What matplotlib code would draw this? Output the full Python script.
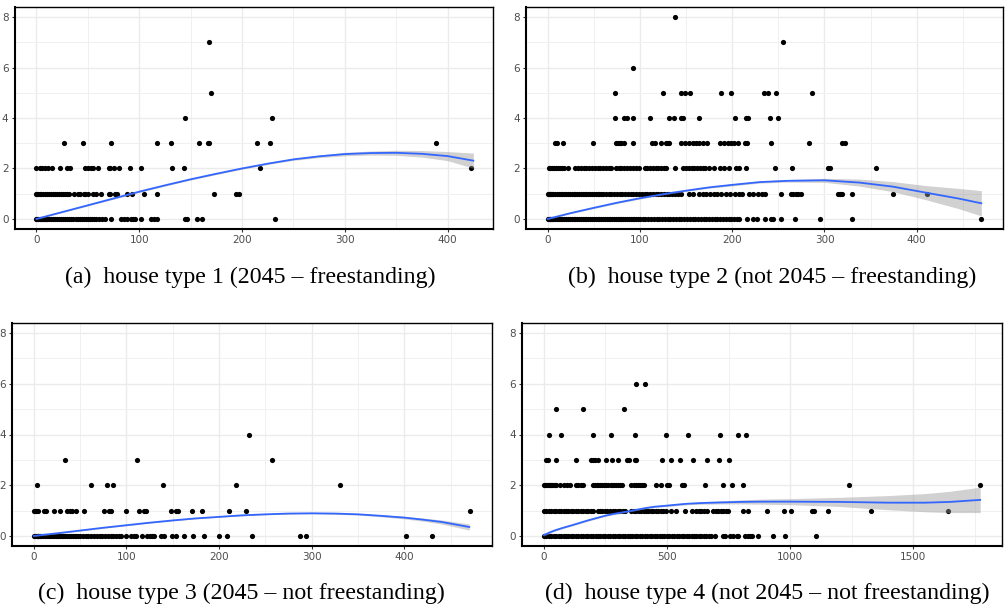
import matplotlib
matplotlib.use("Agg")
import matplotlib.pyplot as plt
import numpy as np

# ---------------- data ----------------
# panel (a): house type 1  -> x values grouped by y level
a_y0 = [0,1,2,3,4,5,6,7,8,9,10,12,14,16,18,20,22,24,26,28,30,32,34,36,38,40,42,44,46,48,50,52,54,56,58,
        61,64,67,73,82,85,88,92,94,96,102,111,114,117,145,146,156,161,232]
a_y1 = [0,1,2,3,4,6,8,10,12,14,16,18,20,22,24,26,28,30,32,37,40,42,46,47,50,55,58,63,71,72,76,78,
        88,93,105,117,173,194,197]
a_y2 = [0,3,5,8,11,15,23,30,33,47,50,53,55,60,71,72,75,80,91,102,132,144,217,423]
a_y3 = [27,45,73,117,131,158,167,168,215,227,389]
a_y4 = [145,229]
a_y5 = [170]
a_y7 = [168]
a_curve_x = [0,25,50,75,100,125,150,175,200,225,250,275,300,325,350,375,400,425]
a_curve_y = [0,0.27,0.54,0.81,1.08,1.33,1.57,1.79,2.0,2.19,2.36,2.48,2.57,2.61,2.62,2.58,2.49,2.31]
a_curve_se = [0.02,0.02,0.03,0.03,0.03,0.03,0.03,0.03,0.03,0.03,0.04,0.05,0.07,0.08,0.1,0.13,0.18,0.3]

# panel (b): house type 2
b_y0 = [0,1,2,3,4,5,6,8,10,12,14,16,18,20,22,24,26,28,30,32,34,36,38,40,42,44,46,48,50,52,54,56,58,60,
        62,64,66,68,70,72,74,76,78,80,82,84,86,88,90,92,94,96,98,100,103,106,109,112,115,118,121,124,127,
        130,133,136,139,142,145,148,151,154,157,160,163,166,169,172,175,178,181,184,187,190,193,196,199,
        202,205,207,216,222,227,235,242,244,253,268,295,330,470]
b_y1 = [0,1,2,3,4,5,6,8,10,12,14,16,18,20,22,24,26,28,30,32,34,36,38,40,42,44,46,48,50,52,54,56,58,60,
        63,66,69,72,75,78,81,84,87,90,93,96,99,102,105,108,111,114,117,120,123,126,129,132,135,138,141,144,
        153,158,164,168,172,176,180,184,188,193,198,203,207,211,218,223,228,232,236,
        253,264,266,269,271,275,315,317,319,330,374,411]
b_y2 = [1,3,5,7,9,11,13,15,18,22,30,33,36,39,42,45,48,51,54,57,60,63,66,69,74,77,80,83,86,89,92,96,99,
        105,108,111,114,117,120,123,126,128,138,147,150,153,156,159,162,165,168,171,175,180,187,191,197,
        204,207,215,246,265,304,306,356]
b_y3 = [8,10,17,49,74,76,78,80,83,93,113,116,123,128,130,131,144,149,153,157,161,164,168,173,187,191,
        195,199,202,206,214,216,242,283,319,322]
b_y4 = [73,83,86,93,111,132,137,144,147,164,203,215,217,241,250]
b_y5 = [73,125,144,149,154,188,199,234,239,247,287]
b_y6 = [92]
b_y7 = [255]
b_y8 = [138]
b_curve_x = [0,25,50,75,100,125,150,175,200,230,260,300,338,374,410,445,470]
b_curve_y = [0,0.23,0.44,0.64,0.82,0.98,1.12,1.25,1.35,1.46,1.51,1.53,1.44,1.28,1.04,0.81,0.62]
b_curve_se = [0.02,0.02,0.03,0.03,0.03,0.03,0.03,0.03,0.04,0.04,0.05,0.08,0.14,0.2,0.28,0.4,0.5]

# panel (c): house type 3
c_y0 = [0,1,2,3,4,5,6,7,8,10,12,14,16,18,20,22,24,26,28,30,32,34,36,38,40,42,44,46,48,50,53,56,59,62,
        65,68,71,74,77,80,83,86,89,92,94,100,105,108,110,117,122,125,128,130,137,140,149,154,162,172,184,
        200,209,236,287,294,402,430]
c_y1 = [0,1,2,4,11,13,22,28,36,39,41,45,54,76,81,83,100,114,119,121,148,154,156,171,181,211,229,471]
c_y2 = [3,62,79,85,139,218,331]
c_y3 = [34,111,257]
c_y4 = [232]
c_curve_x = [0,25,50,75,100,125,150,175,200,225,250,275,300,325,350,375,400,420,440,470]
c_curve_y = [0,0.1,0.21,0.32,0.42,0.52,0.61,0.69,0.75,0.81,0.85,0.88,0.89,0.88,0.85,0.79,0.72,0.64,0.55,0.35]
c_curve_se = [0.02,0.02,0.02,0.02,0.02,0.02,0.02,0.02,0.02,0.02,0.02,0.02,0.02,0.03,0.03,0.04,0.05,0.06,0.08,0.12]

# panel (d): house type 4
d_y0 = [0,10,20,30,40,50,60,70,80,90,100,110,120,130,140,150,160,170,180,190,200,210,220,230,240,250,
        260,270,280,290,300,310,320,330,340,350,360,370,380,390,400,410,420,430,440,450,460,470,480,490,
        500,510,520,530,540,550,560,570,580,590,600,610,620,630,640,650,660,670,680,694,
        728,735,755,769,783,789,816,828,837,844,871,930,980,1107]
d_y1 = [0,10,20,30,40,50,60,70,80,90,100,110,120,130,140,150,160,170,180,190,200,218,228,238,248,258,
        268,280,290,300,310,320,330,355,365,375,385,395,405,415,425,435,445,455,465,475,485,498,518,535,
        575,600,620,630,640,650,661,688,698,708,718,728,738,749,810,828,906,974,1005,1090,1097,1154,1327,1643]
d_y2 = [0,5,10,15,20,25,30,35,40,45,50,64,81,95,108,131,140,149,158,198,206,214,222,230,238,246,254,259,
        271,277,285,293,301,310,318,355,367,375,383,391,400,408,457,477,502,507,563,570,654,726,763,810,
        1239,1772]
d_y3 = [9,16,50,131,193,199,206,222,254,277,301,339,344,369,376,480,518,552,606,661,711,752]
d_y4 = [21,70,198,274,372,498,585,715,787,819]
d_y5 = [50,159,325]
d_y6 = [375,412]
d_curve_x = [0,20,43,75,111,145,179,213,247,280,315,350,382,415,450,485,518,550,586,650,722,800,884,
             1000,1200,1400,1550,1650,1772]
d_curve_y = [0.03,0.12,0.21,0.31,0.41,0.51,0.61,0.70,0.79,0.86,0.92,0.98,1.04,1.10,1.15,1.18,1.21,1.24,
             1.27,1.30,1.32,1.34,1.35,1.35,1.34,1.31,1.31,1.34,1.42]
d_curve_se = [0.04,0.04,0.03,0.03,0.03,0.03,0.03,0.03,0.03,0.03,0.03,0.03,0.03,0.03,0.03,0.03,0.04,0.04,
              0.04,0.05,0.06,0.08,0.1,0.12,0.18,0.28,0.36,0.42,0.5]

captions = ["(a)  house type 1 (2045 \u2013 freestanding)",
            "(b)  house type 2 (not 2045 \u2013 freestanding)",
            "(c)  house type 3 (2045 \u2013 not freestanding)",
            "(d)  house type 4 (not 2045 \u2013 not freestanding)"]

panels = [
    ({0: a_y0, 1: a_y1, 2: a_y2, 3: a_y3, 4: a_y4, 5: a_y5, 7: a_y7},
     a_curve_x, a_curve_y, a_curve_se, [0, 100, 200, 300, 400], 50),
    ({0: b_y0, 1: b_y1, 2: b_y2, 3: b_y3, 4: b_y4, 5: b_y5, 6: b_y6, 7: b_y7, 8: b_y8},
     b_curve_x, b_curve_y, b_curve_se, [0, 100, 200, 300, 400], 50),
    ({0: c_y0, 1: c_y1, 2: c_y2, 3: c_y3, 4: c_y4},
     c_curve_x, c_curve_y, c_curve_se, [0, 100, 200, 300, 400], 50),
    ({0: d_y0, 1: d_y1, 2: d_y2, 3: d_y3, 4: d_y4, 5: d_y5, 6: d_y6},
     d_curve_x, d_curve_y, d_curve_se, [0, 500, 1000, 1500], 250),
]

# ---------------- layout ----------------
W, H = 1007, 606
fig = plt.figure(figsize=(W / 100, H / 100), dpi=100)
boxes = [(14.7, 7, 493, 229), (526, 7, 1003, 229), (12, 323, 492, 546), (522, 323, 1002, 546)]
cap_pos = [(250, 277), (772, 277), (241, 593), (767, 593)]

for i, (pts, cx, cy, cse, xticks, minor_step) in enumerate(panels):
    l, t, r, b = boxes[i]
    ax = fig.add_axes([l / W, 1 - b / H, (r - l) / W, (b - t) / H])
    allx = [x for v in pts.values() for x in v]
    xmin, xmax = min(allx), max(allx)
    pad = 0.05 * (xmax - xmin)
    ax.set_xlim(xmin - pad, xmax + pad)
    ax.set_ylim(-0.4, 8.4)
    ax.set_xticks(xticks)
    ax.set_xticks(np.arange(xticks[0] + minor_step, xmax + pad, minor_step * 2), minor=True)
    ax.set_yticks([0, 2, 4, 6, 8])
    ax.set_yticks([1, 3, 5, 7], minor=True)
    ax.grid(True, which="major", color="#EBEBEB", lw=1.0, zorder=0)
    ax.grid(True, which="minor", color="#F0F0F0", lw=0.7, zorder=0)
    ax.set_axisbelow(True)
    ax.tick_params(which="major", length=2.5, width=0.8, color="#333333",
                   labelsize=7.5, labelcolor="#4D4D4D", pad=2)
    ax.tick_params(which="minor", length=0)
    for side in ["top", "right"]:
        ax.spines[side].set_linewidth(1.0)
        ax.spines[side].set_color("black")
    for side in ["left", "bottom"]:
        ax.spines[side].set_linewidth(1.5)
        ax.spines[side].set_color("black")
    for yv, xs in pts.items():
        ax.scatter(xs, [yv] * len(xs), s=14, c="black", linewidths=0, zorder=3)
    cx = np.array(cx); cy = np.array(cy); cse = np.array(cse)
    ax.fill_between(cx, cy - cse, cy + cse, color="#999999", alpha=0.45, lw=0, zorder=4)
    ax.plot(cx, cy, color="#3366FF", lw=1.3, zorder=5, solid_joinstyle="round")
    fig.text(cap_pos[i][0] / W, 1 - cap_pos[i][1] / H, captions[i], ha="center", va="center",
             fontsize=17.2, family="Liberation Serif")

fig.savefig("out.png", dpi=100)
